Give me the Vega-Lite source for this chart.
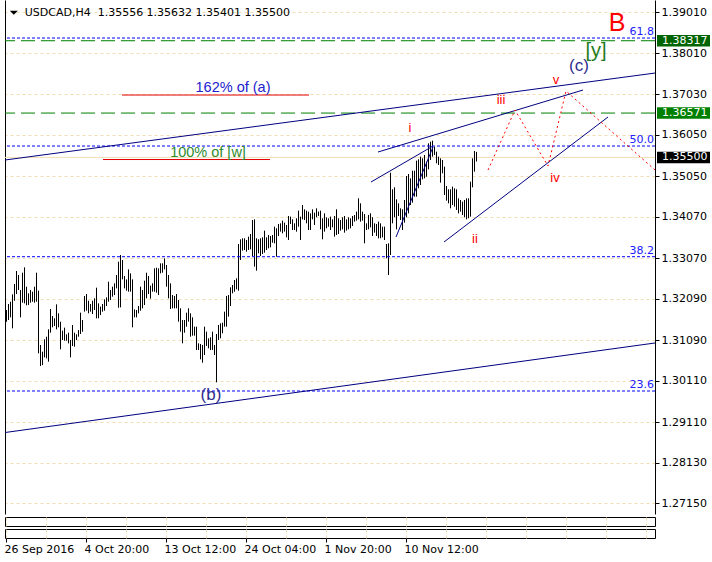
{
  "$schema": "https://vega.github.io/schema/vega-lite/v6.json",
  "background": "white",
  "padding": {"left": 2, "top": 0, "right": 0, "bottom": 0},
  "spacing": 3,
  "bounds": "flush",
  "resolve": {"scale": {"x": "independent"}},
  "config": {
    "view": {"stroke": null},
    "font": "DejaVu Sans",
    "axis": {"labelFont": "DejaVu Sans", "labelFontSize": 11, "labelColor": "black", "title": null}
  },
  "datasets": {
    "bars": [
      {"i":0,"h":1.31816,"l":1.31534},{"i":1,"h":1.31961,"l":1.31575},{"i":2,"h":1.32017,"l":1.31639},{"i":3,"h":1.32194,"l":1.31374},
      {"i":4,"h":1.32444,"l":1.32041},{"i":5,"h":1.32758,"l":1.32202},{"i":6,"h":1.32661,"l":1.32299},{"i":7,"h":1.32299,"l":1.31639},
      {"i":8,"h":1.32717,"l":1.31993},{"i":9,"h":1.32846,"l":1.31977},{"i":10,"h":1.32379,"l":1.31929},{"i":11,"h":1.32218,"l":1.31937},
      {"i":12,"h":1.32299,"l":1.31993},{"i":13,"h":1.32259,"l":1.32017},{"i":14,"h":1.32379,"l":1.31993},{"i":15,"h":1.32717,"l":1.32017},
      {"i":16,"h":1.32283,"l":1.30770},{"i":17,"h":1.30971,"l":1.30464},{"i":18,"h":1.30810,"l":1.30488},{"i":19,"h":1.31108,"l":1.30673},
      {"i":20,"h":1.31172,"l":1.30649},{"i":21,"h":1.31349,"l":1.30569},{"i":22,"h":1.31840,"l":1.31269},{"i":23,"h":1.31671,"l":1.31398},
      {"i":24,"h":1.31615,"l":1.31430},{"i":25,"h":1.31953,"l":1.31349},{"i":26,"h":1.31736,"l":1.31398},{"i":27,"h":1.31534,"l":1.30867},
      {"i":28,"h":1.31317,"l":1.31092},{"i":29,"h":1.31390,"l":1.31076},{"i":30,"h":1.31229,"l":1.31076},{"i":31,"h":1.31269,"l":1.31011},
      {"i":32,"h":1.31092,"l":1.30673},{"i":33,"h":1.31454,"l":1.30947},{"i":34,"h":1.31269,"l":1.30931},{"i":35,"h":1.31229,"l":1.31092},
      {"i":36,"h":1.31333,"l":1.31172},{"i":37,"h":1.31752,"l":1.31237},{"i":38,"h":1.31575,"l":1.31293},{"i":39,"h":1.32154,"l":1.31776},
      {"i":40,"h":1.32202,"l":1.31800},{"i":41,"h":1.32041,"l":1.31736},{"i":42,"h":1.31961,"l":1.31776},{"i":43,"h":1.32041,"l":1.31720},
      {"i":44,"h":1.32098,"l":1.31816},{"i":45,"h":1.32355,"l":1.31615},{"i":46,"h":1.31977,"l":1.31615},{"i":47,"h":1.31897,"l":1.31695},
      {"i":48,"h":1.31961,"l":1.31776},{"i":49,"h":1.32074,"l":1.31800},{"i":50,"h":1.32122,"l":1.31913},{"i":51,"h":1.32500,"l":1.32017},
      {"i":52,"h":1.32299,"l":1.32057},{"i":53,"h":1.32379,"l":1.32138},{"i":54,"h":1.32460,"l":1.32178},{"i":55,"h":1.32661,"l":1.32339},
      {"i":56,"h":1.32983,"l":1.31872},{"i":57,"h":1.33144,"l":1.31880},{"i":58,"h":1.33023,"l":1.32556},{"i":59,"h":1.32637,"l":1.32339},
      {"i":60,"h":1.32556,"l":1.32283},{"i":61,"h":1.32798,"l":1.32259},{"i":62,"h":1.32701,"l":1.32259},{"i":63,"h":1.32556,"l":1.31398},
      {"i":64,"h":1.31832,"l":1.31639},{"i":65,"h":1.31816,"l":1.31639},{"i":66,"h":1.31913,"l":1.31736},{"i":67,"h":1.32379,"l":1.31800},
      {"i":68,"h":1.32299,"l":1.31856},{"i":69,"h":1.32524,"l":1.31937},{"i":70,"h":1.32717,"l":1.32098},{"i":71,"h":1.32637,"l":1.32202},
      {"i":72,"h":1.32404,"l":1.32090},{"i":73,"h":1.32460,"l":1.32259},{"i":74,"h":1.32822,"l":1.32259},{"i":75,"h":1.32838,"l":1.32235},
      {"i":76,"h":1.32822,"l":1.32178},{"i":77,"h":1.32943,"l":1.32701},{"i":78,"h":1.32943,"l":1.32717},
      {"i":79,"h":1.33064,"l":1.32798},{"i":80,"h":1.32903,"l":1.32380},{"i":81,"h":1.32662,"l":1.32098},{"i":82,"h":1.32460,"l":1.31841},
      {"i":83,"h":1.32179,"l":1.31857},{"i":84,"h":1.32155,"l":1.31857},{"i":85,"h":1.32203,"l":1.31857},{"i":86,"h":1.32058,"l":1.31535},
      {"i":87,"h":1.31857,"l":1.31294},{"i":88,"h":1.31575,"l":1.31012},{"i":89,"h":1.31575,"l":1.31269},{"i":90,"h":1.31752,"l":1.31414},
      {"i":91,"h":1.31857,"l":1.31535},{"i":92,"h":1.31736,"l":1.31173},{"i":93,"h":1.31640,"l":1.31197},{"i":94,"h":1.31414,"l":1.31197},
      {"i":95,"h":1.31414,"l":1.30851},{"i":96,"h":1.31012,"l":1.30851},{"i":97,"h":1.30996,"l":1.30626},{"i":98,"h":1.30972,"l":1.30545},
      {"i":99,"h":1.31414,"l":1.30730},{"i":100,"h":1.31294,"l":1.30948},{"i":101,"h":1.31133,"l":1.30891},{"i":102,"h":1.31157,"l":1.30851},
      {"i":103,"h":1.31294,"l":1.30851},{"i":104,"h":1.30972,"l":1.30730},{"i":105,"h":1.31237,"l":1.30070},{"i":106,"h":1.31455,"l":1.31092},
      {"i":107,"h":1.31495,"l":1.31133},{"i":108,"h":1.31511,"l":1.31253},{"i":109,"h":1.31776,"l":1.31414},{"i":110,"h":1.32155,"l":1.31414},
      {"i":111,"h":1.32179,"l":1.31656},{"i":112,"h":1.32364,"l":1.31913},{"i":113,"h":1.32420,"l":1.32219},{"i":114,"h":1.32541,"l":1.32259},
      {"i":115,"h":1.32581,"l":1.32316},{"i":116,"h":1.33410,"l":1.32283},{"i":117,"h":1.33523,"l":1.33024},{"i":118,"h":1.33547,"l":1.33249},
      {"i":119,"h":1.33547,"l":1.33265},{"i":120,"h":1.33507,"l":1.33225},{"i":121,"h":1.33587,"l":1.33265},{"i":122,"h":1.33651,"l":1.33281},
      {"i":123,"h":1.33989,"l":1.33120},{"i":124,"h":1.34005,"l":1.32863},{"i":125,"h":1.33547,"l":1.32766},{"i":126,"h":1.33523,"l":1.33185},
      {"i":127,"h":1.33547,"l":1.33120},{"i":128,"h":1.33571,"l":1.33169},{"i":129,"h":1.33732,"l":1.33201},{"i":130,"h":1.33571,"l":1.33265},
      {"i":131,"h":1.33627,"l":1.33305},{"i":132,"h":1.33603,"l":1.33329},{"i":133,"h":1.33627,"l":1.33442},{"i":134,"h":1.33828,"l":1.33426},
      {"i":135,"h":1.33788,"l":1.33104},{"i":136,"h":1.33893,"l":1.33603},{"i":137,"h":1.33909,"l":1.33708},{"i":138,"h":1.33973,"l":1.33667},
      {"i":139,"h":1.33925,"l":1.33708},{"i":140,"h":1.33869,"l":1.33571},{"i":141,"h":1.34086,"l":1.33507},{"i":142,"h":1.34070,"l":1.33893},
      {"i":143,"h":1.34005,"l":1.33748},{"i":144,"h":1.33909,"l":1.33748},{"i":145,"h":1.34030,"l":1.33708},{"i":146,"h":1.34215,"l":1.33828},
      {"i":147,"h":1.34070,"l":1.33507},{"i":148,"h":1.34351,"l":1.34005},{"i":149,"h":1.34247,"l":1.33989},{"i":150,"h":1.34215,"l":1.33909},
      {"i":151,"h":1.34191,"l":1.33748},{"i":152,"h":1.34150,"l":1.33748},{"i":153,"h":1.34247,"l":1.34005},{"i":154,"h":1.34166,"l":1.33869},
      {"i":155,"h":1.34271,"l":1.34054},{"i":156,"h":1.34191,"l":1.34086},{"i":157,"h":1.34215,"l":1.33764},{"i":158,"h":1.34030,"l":1.33523},
      {"i":159,"h":1.34150,"l":1.33708},{"i":160,"h":1.34054,"l":1.33788},{"i":161,"h":1.34030,"l":1.33828},{"i":162,"h":1.34070,"l":1.33748},
      {"i":163,"h":1.34005,"l":1.33812},{"i":164,"h":1.34086,"l":1.33587},{"i":165,"h":1.34247,"l":1.33627},{"i":166,"h":1.34030,"l":1.33651},
      {"i":167,"h":1.33989,"l":1.33732},{"i":168,"h":1.34054,"l":1.33764},{"i":169,"h":1.34086,"l":1.33684},{"i":170,"h":1.34005,"l":1.33732},
      {"i":171,"h":1.34054,"l":1.33764},{"i":172,"h":1.34030,"l":1.33788},{"i":173,"h":1.34086,"l":1.33844},{"i":174,"h":1.34110,"l":1.33949},
      {"i":175,"h":1.34191,"l":1.33973},{"i":176,"h":1.34512,"l":1.34005},{"i":177,"h":1.34392,"l":1.33949},{"i":178,"h":1.34191,"l":1.33973},
      {"i":179,"h":1.34134,"l":1.33426},{"i":180,"h":1.33909,"l":1.33748},{"i":181,"h":1.34110,"l":1.33764},{"i":182,"h":1.34150,"l":1.33812},
      {"i":183,"h":1.34054,"l":1.33603},{"i":184,"h":1.33909,"l":1.33684},{"i":185,"h":1.33893,"l":1.33603},{"i":186,"h":1.33949,"l":1.33547},
      {"i":187,"h":1.33909,"l":1.33547},{"i":188,"h":1.33828,"l":1.33571},{"i":189,"h":1.33828,"l":1.33507},{"i":190,"h":1.33410,"l":1.33064},
      {"i":191,"h":1.33426,"l":1.32662},{"i":192,"h":1.35132,"l":1.33144},{"i":193,"h":1.34730,"l":1.33909},{"i":194,"h":1.34778,"l":1.34054},
      {"i":195,"h":1.34488,"l":1.33764},{"i":196,"h":1.34392,"l":1.34086},{"i":197,"h":1.34271,"l":1.33989},{"i":198,"h":1.34247,"l":1.33748},
      {"i":199,"h":1.34472,"l":1.33925},{"i":200,"h":1.35052,"l":1.34054},{"i":201,"h":1.35100,"l":1.34150},{"i":202,"h":1.34995,"l":1.34351},
      {"i":203,"h":1.35180,"l":1.34408},{"i":204,"h":1.35180,"l":1.34553},{"i":205,"h":1.35422,"l":1.34553},{"i":206,"h":1.35454,"l":1.34754},
      {"i":207,"h":1.35518,"l":1.34834},{"i":208,"h":1.35478,"l":1.34971},{"i":209,"h":1.35558,"l":1.34995},{"i":210,"h":1.35398,"l":1.35035},
      {"i":211,"h":1.35840,"l":1.35212},{"i":212,"h":1.35880,"l":1.35438},{"i":213,"h":1.35904,"l":1.35518},{"i":214,"h":1.35760,"l":1.35558},
      {"i":215,"h":1.35639,"l":1.35357},{"i":216,"h":1.35518,"l":1.35317},{"i":217,"h":1.35478,"l":1.34891},{"i":218,"h":1.35438,"l":1.35116},
      {"i":219,"h":1.35277,"l":1.34593},{"i":220,"h":1.34810,"l":1.34456},{"i":221,"h":1.34730,"l":1.34392},{"i":222,"h":1.34730,"l":1.34271},
      {"i":223,"h":1.34794,"l":1.34351},{"i":224,"h":1.34754,"l":1.34311},{"i":225,"h":1.34730,"l":1.34231},{"i":226,"h":1.34512,"l":1.34150},
      {"i":227,"h":1.34472,"l":1.34191},{"i":228,"h":1.34432,"l":1.34110},{"i":229,"h":1.34472,"l":1.34054},{"i":230,"h":1.34512,"l":1.34005},
      {"i":231,"h":1.34512,"l":1.34030},{"i":232,"h":1.34915,"l":1.34070},{"i":233,"h":1.35478,"l":1.34778},{"i":234,"h":1.35655,"l":1.35156},
      {"i":235,"h":1.35632,"l":1.35401}
    ],
    "trend": [
      {"x1":-0.5,"y1":1.35437,"x2":324.5,"y2":1.37537},
      {"x1":182.5,"y1":1.34906,"x2":213.5,"y2":1.35775},
      {"x1":195,"y1":1.33578,"x2":213.5,"y2":1.35751},
      {"x1":186,"y1":1.35630,"x2":288.5,"y2":1.37127},
      {"x1":219,"y1":1.33458,"x2":301,"y2":1.36475},
      {"x1":-0.5,"y1":1.28859,"x2":324.5,"y2":1.31020}
    ],
    "zig": [
      {"i":241,"p":1.35196},{"i":254.5,"p":1.36644},{"i":271,"p":1.35292},{"i":280,"p":1.37103},{"i":324.5,"p":1.35196}
    ],
    "fib": [
      {"t":"61.8","p":1.38382},{"t":"50.0","p":1.35775},{"t":"38.2","p":1.33103},{"t":"23.6","p":1.29861}
    ],
    "waves": [
      {"t":"i","i":202,"p":1.36210},{"t":"ii","i":234.5,"p":1.33530},{"t":"iii","i":247.5,"p":1.36886},
      {"t":"iv","i":274.5,"p":1.35003},{"t":"v","i":275,"p":1.37368}
    ],
    "tags": [
      {"t":"1.38317","p":1.38317,"k":"a"},{"t":"1.36571","p":1.36571,"k":"b"},{"t":"1.35500","p":1.35500,"k":"c"}
    ]
  },
  "vconcat": [
    {
      "width": 650,
      "height": 514,
      "resolve": {"axis": {"y": "independent"}},
      "layer": [
        {
          "data": {"values": [{"p": 1.355}]},
          "mark": {"type": "rule", "color": "#f5deb3", "strokeWidth": 1},
          "encoding": {
            "y": {"field": "p", "type": "quantitative", "scale": {"domain": [1.26892, 1.393], "nice": false, "zero": false},
                  "axis": {"orient": "left", "labels": false, "ticks": false, "grid": false, "domain": true, "domainColor": "black", "title": null}}
          }
        },
        {
          "data": {"name": "bars"},
          "mark": {"type": "rule", "color": "black", "strokeWidth": 1, "xOffset": 0.5},
          "encoding": {
            "x": {"field": "i", "type": "quantitative", "scale": {"domain": [-0.5, 324.5], "nice": false, "zero": false},
                  "axis": {"values": [0,20,40,60,80,100,120,140,160,180,200,220,240,260,280,300,320], "grid": true, "gridDash": [3,3], "gridColor": "#f3dcb0",
                           "labels": false, "ticks": false, "domain": true, "domainColor": "black", "title": null}},
            "y": {"field": "h", "type": "quantitative", "scale": {"domain": [1.26892, 1.393], "nice": false, "zero": false},
                  "axis": {"orient": "right", "values": [1.2715,1.2813,1.2911,1.3011,1.3109,1.3209,1.3307,1.3407,1.3505,1.3605,1.3703,1.3801,1.3901],
                           "format": ".5f", "grid": true, "gridDash": [3,3], "gridColor": "#f3dcb0", "domainColor": "black", "tickColor": "black",
                           "tickSize": 4, "labelPadding": 2, "title": null}},
            "y2": {"field": "l"}
          }
        },
        {
          "data": {"name": "fib"},
          "mark": {"type": "rule", "color": "#0000ff", "strokeDash": [3,2], "strokeWidth": 1},
          "encoding": {"y": {"field": "p", "type": "quantitative", "axis": null}}
        },
        {
          "data": {"values": [{"p": 1.38317}, {"p": 1.36571}]},
          "mark": {"type": "rule", "color": "#008000", "strokeDash": [14,6], "strokeWidth": 1},
          "encoding": {"y": {"field": "p", "type": "quantitative", "axis": null}}
        },
        {
          "data": {"values": [{"a": 58, "b": 151.5, "p": 1.37006}, {"a": 48.5, "b": 132, "p": 1.35449}]},
          "mark": {"type": "rule", "color": "#e00000", "strokeWidth": 1},
          "encoding": {
            "x": {"field": "a", "type": "quantitative", "axis": null},
            "x2": {"field": "b"},
            "y": {"field": "p", "type": "quantitative", "axis": null}
          }
        },
        {
          "data": {"name": "trend"},
          "mark": {"type": "rule", "color": "#000080", "strokeWidth": 1},
          "encoding": {
            "x": {"field": "x1", "type": "quantitative", "axis": null},
            "x2": {"field": "x2"},
            "y": {"field": "y1", "type": "quantitative", "axis": null},
            "y2": {"field": "y2"}
          }
        },
        {
          "data": {"name": "zig"},
          "mark": {"type": "line", "color": "#ff0000", "strokeDash": [2,3], "strokeWidth": 1},
          "encoding": {
            "x": {"field": "i", "type": "quantitative", "axis": null},
            "y": {"field": "p", "type": "quantitative", "axis": null},
            "order": {"field": "i"}
          }
        },
        {
          "data": {"name": "fib"},
          "mark": {"type": "text", "align": "right", "baseline": "alphabetic", "dy": -3, "fontSize": 11, "font": "DejaVu Sans", "color": "#2020ff"},
          "encoding": {
            "x": {"datum": 324},
            "y": {"field": "p", "type": "quantitative", "axis": null},
            "text": {"field": "t"}
          }
        },
        {
          "data": {"name": "waves"},
          "mark": {"type": "text", "align": "center", "baseline": "middle", "fontSize": 13, "font": "Liberation Sans", "color": "#ff0000"},
          "encoding": {
            "x": {"field": "i", "type": "quantitative", "axis": null},
            "y": {"field": "p", "type": "quantitative", "axis": null},
            "text": {"field": "t"}
          }
        },
        {
          "data": {"values": [{"t": "(c)", "i": 286.5, "p": 1.37706}, {"t": "(b)", "i": 102.5, "p": 1.29764}]},
          "mark": {"type": "text", "align": "center", "baseline": "middle", "fontSize": 17, "font": "Liberation Sans", "color": "#2e2e8e"},
          "encoding": {
            "x": {"field": "i", "type": "quantitative", "axis": null},
            "y": {"field": "p", "type": "quantitative", "axis": null},
            "text": {"field": "t"}
          }
        },
        {
          "data": {"values": [{"t": "[y]", "i": 295, "p": 1.38069}]},
          "mark": {"type": "text", "align": "center", "baseline": "middle", "fontSize": 20, "font": "Liberation Sans", "color": "#1e7b1e"},
          "encoding": {
            "x": {"field": "i", "type": "quantitative", "axis": null},
            "y": {"field": "p", "type": "quantitative", "axis": null},
            "text": {"field": "t"}
          }
        },
        {
          "data": {"values": [{"t": "B", "i": 305.5, "p": 1.38744}]},
          "mark": {"type": "text", "align": "center", "baseline": "middle", "fontSize": 25, "font": "Liberation Sans", "color": "#ff0000"},
          "encoding": {
            "x": {"field": "i", "type": "quantitative", "axis": null},
            "y": {"field": "p", "type": "quantitative", "axis": null},
            "text": {"field": "t"}
          }
        },
        {
          "data": {"values": [{"t": "162% of (a)", "i": 113.5, "p": 1.37175}]},
          "mark": {"type": "text", "align": "center", "baseline": "middle", "fontSize": 14.5, "font": "Liberation Sans", "color": "#2222cc"},
          "encoding": {
            "x": {"field": "i", "type": "quantitative", "axis": null},
            "y": {"field": "p", "type": "quantitative", "axis": null},
            "text": {"field": "t"}
          }
        },
        {
          "data": {"values": [{"t": "100% of [w]", "i": 101, "p": 1.35606}]},
          "mark": {"type": "text", "align": "center", "baseline": "middle", "fontSize": 14.5, "font": "Liberation Sans", "color": "#2e8b2e"},
          "encoding": {
            "x": {"field": "i", "type": "quantitative", "axis": null},
            "y": {"field": "p", "type": "quantitative", "axis": null},
            "text": {"field": "t"}
          }
        },
        {
          "data": {"values": [{"t": "USDCAD,H4\u00a0 1.35556 1.35632 1.35401 1.35500", "i": 9.35, "p": 1.38998}]},
          "mark": {"type": "text", "align": "left", "baseline": "middle", "fontSize": 11, "font": "DejaVu Sans", "color": "black"},
          "encoding": {
            "x": {"field": "i", "type": "quantitative", "axis": null},
            "y": {"field": "p", "type": "quantitative", "axis": null},
            "text": {"field": "t"}
          }
        },
        {
          "data": {"values": [{"i": 3.9, "p": 1.38991}]},
          "mark": {"type": "point", "shape": "M-1,-0.5L1,-0.5L0,0.5Z", "size": 64, "filled": true, "color": "black", "opacity": 1, "strokeWidth": 0},
          "encoding": {
            "x": {"field": "i", "type": "quantitative", "axis": null},
            "y": {"field": "p", "type": "quantitative", "axis": null}
          }
        },
        {
          "data": {"name": "tags"},
          "mark": {"type": "point", "shape": "M-1,-0.217L1,-0.217L1,0.217L-1,0.217Z", "size": 2809, "filled": true, "opacity": 1, "strokeWidth": 0},
          "encoding": {
            "x": {"datum": 338.75},
            "y": {"field": "p", "type": "quantitative", "axis": null},
            "color": {"field": "k", "type": "nominal", "scale": {"domain": ["a","b","c"], "range": ["#006400","#008000","#000000"]}, "legend": null}
          }
        },
        {
          "data": {"name": "tags"},
          "mark": {"type": "text", "align": "left", "baseline": "middle", "fontSize": 11, "font": "DejaVu Sans", "color": "white"},
          "encoding": {
            "x": {"datum": 328},
            "y": {"field": "p", "type": "quantitative", "axis": null},
            "text": {"field": "t"}
          }
        }
      ]
    },
    {
      "width": 650,
      "height": 9,
      "view": {"stroke": "black"},
      "data": {"values": [{"i": 0}]},
      "mark": {"type": "point", "opacity": 0},
      "encoding": {
        "x": {"field": "i", "type": "quantitative", "scale": {"domain": [-0.5, 324.5], "nice": false, "zero": false},
              "axis": {"values": [0,20,40,60,80,100,120,140,160,180,200,220,240,260,280,300,320], "grid": true, "gridDash": [3,3], "gridColor": "#f3dcb0",
                       "labels": false, "ticks": false, "domain": false, "title": null}}
      }
    },
    {
      "width": 650,
      "height": 9,
      "view": {"stroke": "black"},
      "data": {"values": [{"i": 0}]},
      "mark": {"type": "point", "opacity": 0},
      "encoding": {
        "x": {"field": "i", "type": "quantitative", "scale": {"domain": [-0.5, 324.5], "nice": false, "zero": false},
              "axis": {"values": [0,20,40,60,80,100,120,140,160,180,200,220,240,260,280,300,320], "grid": true, "gridDash": [3,3], "gridColor": "#f3dcb0",
                       "domain": false, "title": null, "tickSize": 4, "tickColor": "black",
                       "tickOpacity": {"condition": {"test": "datum.value % 40 === 0 && datum.value <= 200", "value": 1}, "value": 0},
                       "labelAlign": "left", "labelBaseline": "top", "labelPadding": 1, "labelOffset": -2,
                       "labelExpr": "datum.value % 40 === 0 && datum.value <= 200 ? ['26 Sep 2016','4 Oct 20:00','13 Oct 12:00','24 Oct 04:00','1 Nov 20:00','10 Nov 12:00'][datum.value / 40] : ''"}}
      }
    }
  ]
}
